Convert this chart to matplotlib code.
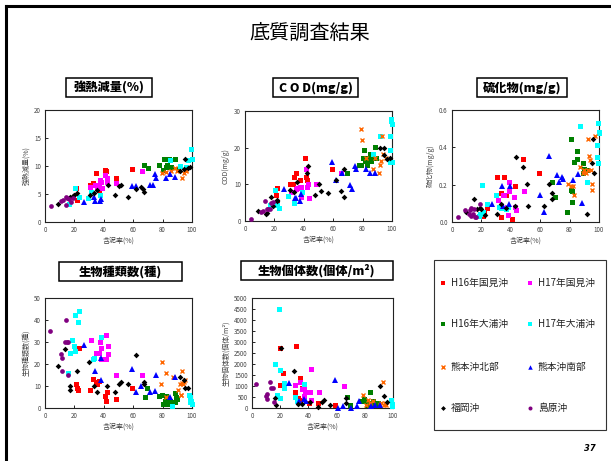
import matplotlib
matplotlib.use("Agg")
import matplotlib.pyplot as plt
from matplotlib.patches import Rectangle
from matplotlib.lines import Line2D

plt.rcParams['font.family'] = ['Noto Sans CJK JP', 'DejaVu Sans']

W, H = 611, 461

# ---------------- data (含泥率 %, value) ----------------
series_names = ["H16年国見沖", "H17年国見沖", "H16年大浦沖", "H17年大浦沖",
                "熊本沖北部", "熊本沖南部", "福岡沖", "島原沖"]

# Plot 1: 強熱減量(%)
IG = {
 "H16年国見沖": [(21,6.1),(21.5,3.9),(30.5,6.6),(32.8,6.9),(35,8.7),(35.7,6.3),(36.4,5.7),(40.7,9.3),(41.4,9.1),(48,7.8),(59.3,9.5)],
 "H17年国見沖": [(30.5,6.3),(34,6.6),(35.5,6.3),(37,6.6),(37.4,7.5),(38,7.1),(38.5,6.0),(41,8.4),(42,7.8),(42.5,7.2),(48.6,7.0),(66.3,9.1)],
 "H16年大浦沖": [(67.2,10.2),(69.9,9.6),(77.6,10.2),(81,11.2),(82.1,9.9),(83,10.2),(84.4,11.2),(86,9.9),(88.7,11.2),(80.3,9.3),(90.5,9.4)],
 "H17年大浦沖": [(16.5,3.3),(20.4,6.0),(23.3,4.5),(29.4,4.3),(31,5.4),(37.3,4.8),(84.8,11),(91.6,10),(97.3,11),(99.1,13.1),(100,11.2),(96,9.9)],
 "熊本沖北部": [(79.6,8.7),(82.6,9.0),(86,9.1),(88.2,9.6),(89.8,9.1),(93.4,7.8),(94.6,8.8),(95.7,9.1),(96.2,9.3)],
 "熊本沖南部": [(26.5,3.5),(33.3,4.5),(34,3.8),(37.3,3.7),(38,4.1),(59.5,6.4),(62,6.4),(71.3,6.6),(73.5,6.6),(75.1,8.5),(75.8,7.8),(82.6,7.9),(84.8,8.5),(88.2,8.1)],
 "福岡沖": [(9,3.2),(17,4.5),(18.8,4.6),(19.7,4.8),(22,5.1),(30.5,4.9),(33.5,5.1),(35.7,5.7),(43,6.6),(47.5,4.8),(50,6.4),(51.4,6.6),(56.8,4.4),(61.8,5.9),(65.6,6.3),(67,5.9),(67.4,5.4),(91.6,9.1),(95,11.2),(94.6,9.4),(97.3,9.6),(98.4,9.9)],
 "島原沖": [(4,2.8),(11,3.8),(12,4.0),(14,4.4),(14.5,3.1),(15,4.2),(16,4.1),(18,3.5),(19,4.3)],
}

# Plot 2: COD(mg/g)
COD = {
 "H16年国見沖": [(21,7.1),(21.5,8.9),(22,5.2),(30.5,10.1),(32.8,10.2),(33.5,12.1),(35,13.1),(37.3,11.2),(41,17.3),(41.2,12.1),(42.3,11.2),(48,10.2),(59.3,14.2)],
 "H17年国見沖": [(31,8.0),(34.6,8.6),(35.5,8.9),(37.3,9.2),(38,9.2),(38,6.6),(41.8,14.2),(42.5,9.3),(43.2,6.3),(43,10.2),(48.6,10),(65.6,13.1)],
 "H16年大浦沖": [(69.7,13.1),(77.6,15.2),(79.2,15.2),(81,19.3),(80.3,17.3),(81.9,16.3),(82.6,17.3),(83.3,15.2),(84.4,17.3),(85.3,18.2),(84.8,16.3),(86,16.3),(88.7,20.2),(87,17.3),(89.4,17.3)],
 "H17年大浦沖": [(17,4.4),(20.4,8.4),(21.5,4.4),(23.3,3.6),(29.4,6.9),(33.3,4.8),(38.5,7.9),(87,18.2),(92,23.1),(98.4,19.3),(98.9,23.1),(99.1,27.9),(99.5,27.3),(100,26.4),(98.9,16.1),(100,16.1)],
 "熊本沖北部": [(79.2,25.2),(79.9,22.2),(82.6,17.3),(87.1,14.1),(88.7,17.3),(91,13.1),(91.6,15.4),(92.3,16.4),(93.4,23.1),(93.9,18.2),(95.7,17.3)],
 "熊本沖南部": [(26.7,8.6),(34,6.2),(34.6,6.4),(37.3,5.4),(38,7.3),(59.5,16),(62.2,11.2),(65.8,13.1),(71.3,9.8),(73,8.6),(75,15),(75.8,14.1),(82.6,14.1),(85.3,13.1),(88.7,13.1)],
 "福岡沖": [(9,2.8),(14,1.9),(14.7,2.1),(17.4,6.6),(19.2,4.2),(21.5,5.4),(22,5.7),(30.5,8.4),(33.3,8),(35.7,10.5),(43,15),(42.3,13.2),(47.5,7.1),(50,10.1),(51.6,8.3),(56.8,7.5),(62.2,11.2),(65.6,8.2),(67.4,14.2),(67.6,6.6),(91.6,20),(94.6,20),(94.6,17.9),(96.8,17),(98.4,17.3)],
 "島原沖": [(3.8,0.6),(10.9,2.5),(12,2.7),(13.8,5.5),(14.7,3.2),(15.8,3.4),(17,3.2),(18,4.8),(18.8,5.1)],
}

# Plot 3: 硫化物(mg/g)
SUL = {
 "H16年国見沖": [(21.1,0.03),(21.6,0.054),(23.9,0.077),(30.9,0.242),(33.2,0.027),(33.6,0.156),(35.5,0.242),(36.6,0.143),(41.1,0.018),(42,0.134),(42.9,0.194),(48.4,0.335),(59.1,0.264)],
 "H17年国見沖": [(31.4,0.116),(34.8,0.143),(35.5,0.143),(37.5,0.081),(38.2,0.036),(38.6,0.215),(38.6,0.167),(42,0.134),(42.9,0.081),(43.2,0.063),(49.1,0.167)],
 "H16年大浦沖": [(67.7,0.215),(70,0.134),(78,0.054),(80.9,0.443),(80.9,0.174),(81.4,0.167),(81.8,0.108),(83.2,0.322),(84.8,0.382),(85.2,0.335),(88.9,0.314),(89.3,0.26),(90,0.283),(91.6,0.278)],
 "H17年大浦沖": [(18.4,0.03),(19.3,0.045),(20.5,0.197),(21.1,0.054),(24.1,0.099),(30.2,0.143),(32,0.081),(33.2,0.077),(36.6,0.072),(38.2,0.081),(87,0.514),(92,0.215),(98.4,0.412),(98.9,0.346),(99.1,0.314),(99.5,0.532),(99.8,0.484),(100,0.475)],
 "熊本沖北部": [(79.1,0.203),(80.9,0.192),(82.5,0.192),(83,0.143),(87,0.292),(88.9,0.264),(89.8,0.281),(90.9,0.26),(92.3,0.281),(92.7,0.443),(93.4,0.353),(93.9,0.332),(94.3,0.278),(95.2,0.203),(95.2,0.174),(97,0.461)],
 "熊本沖南部": [(27.5,0.095),(34.1,0.192),(34.8,0.084),(38.9,0.095),(39.3,0.192),(59.8,0.143),(62.5,0.054),(66.1,0.353),(71.1,0.254),(73,0.213),(75,0.242),(75.7,0.231),(82.5,0.224),(85.5,0.256),(88.4,0.102)],
 "福岡沖": [(9.3,0.054),(15,0.125),(17.3,0.072),(18.9,0.077),(19.5,0.068),(22.3,0.036),(30.9,0.045),(33.6,0.095),(36.6,0.077),(43.2,0.346),(42.7,0.084),(48,0.296),(50.7,0.203),(51.8,0.084),(62.5,0.084),(65.9,0.203),(67.7,0.156),(68.2,0.125),(91.6,0.045),(95,0.314),(95.7,0.443),(96.8,0.26)],
 "島原沖": [(4.1,0.027),(9.1,0.066),(11.4,0.041),(12,0.063),(12.7,0.077),(13.2,0.03),(14.3,0.041),(15.5,0.027),(16.6,0.027),(18.9,0.099),(14.8,0.072)],
}

# Plot 4: 生物種類数(種)
SPC = {
 "H16年国見沖": [(21,11.1),(21.5,8.9),(22.2,8.1),(23.1,27.4),(30.5,8.1),(32.8,13.3),(35,11.7),(35.5,10.8),(36.4,12.3),(40.7,5.3),(41.2,3.0),(42.5,7.2),(48.2,4.1),(59.3,9.0)],
 "H17年国見沖": [(31,30.9),(34.6,25.2),(35.5,25.2),(36.4,25.2),(37.3,30.1),(38,27.1),(38,22.3),(41.4,22.3),(41.8,33.1),(42.8,28.1),(43,24.4),(48.4,15.1),(66.1,15.1)],
 "H16年大浦沖": [(67.9,5),(69.7,9),(77.6,5.3),(79.9,6),(80.3,2),(81.4,3),(82.1,2),(83.3,3),(84.2,2),(84.8,3),(88.2,6.8),(88.7,2.7),(88.9,4.8),(89.8,4.1),(82.6,5.3)],
 "H17年大浦沖": [(15.8,16.1),(17,25.2),(18.1,30.9),(19.7,28.1),(20.4,42.2),(20.4,26.1),(22.2,39.2),(23.3,44.1),(32.4,22.1),(33.3,22.9),(37.8,32.4),(86.7,0.8),(98,5.7),(98.9,4.8),(98.4,2.6),(99.5,3),(100,2)],
 "熊本沖北部": [(79.6,21.1),(79.2,11),(82.6,16.1),(82.6,5),(87.1,13.9),(90.5,8),(91.6,11),(92.3,6),(92.8,6),(93.4,17),(93.9,11),(94.6,12),(95,12.8),(93.2,11.3)],
 "熊本沖南部": [(26.7,28.6),(34,16.9),(37.8,12.8),(38,22.9),(59.5,17.8),(61.8,7.1),(65.6,10.1),(71.3,7.1),(75.1,7.8),(75.8,14.8),(85.3,4.8),(88.2,13.9)],
 "福岡沖": [(9,19.1),(13.8,27),(17,10.1),(17,8),(22,16.9),(30.1,21.1),(33.5,10.1),(35.7,7.1),(42.5,10.1),(47.5,7.1),(50.5,11),(51.4,11.9),(56.8,11),(61.8,24.1),(67.2,11),(67.6,12.0),(91.6,13.9),(94.6,12.8),(95,9),(97.3,9)],
 "島原沖": [(3.4,35.1),(14,39.9),(10.9,24.4),(11.3,22.9),(11.8,16.9),(13.6,30.1),(14.7,30.1),(15.8,30.1),(15.8,15.1)],
}

# Plot 5: 生物個体数(個体/m2)
ABD = {
 "H16年国見沖": [(20.1,2740),(19.6,1050),(21.9,1580),(30.3,750),(31.4,2830),(32.6,450),(33.8,350),(34.3,1360),(35.5,900),(40.4,230),(46.8,230),(58.6,120)],
 "H17年国見沖": [(30.3,1050),(33.8,1160),(35.7,860),(36.9,560),(36.9,940),(37.8,720),(40.9,750),(42.1,1780),(42.1,380),(47.5,710),(65.2,1010)],
 "H16年大浦沖": [(67.4,480),(69.7,120),(77.5,330),(79.2,420),(80.4,300),(81.6,120),(82.3,230),(83.9,750),(84.6,150),(85.8,300),(87.5,120),(89.4,230)],
 "H17年大浦沖": [(16.1,1990),(17.7,600),(18.9,4520),(19.6,1730),(19.6,450),(22.5,930),(22.5,1130),(30.7,480),(31.9,300),(36.9,1080),(98.8,350),(99.3,180),(99.5,75)],
 "熊本沖北部": [(78.7,600),(81.1,150),(82.3,380),(83.5,230),(85.8,330),(90.5,150),(91.7,230),(92.9,1180),(93.4,150),(94.3,230),(95.3,150)],
 "熊本沖南部": [(26.2,1130),(33.3,300),(36.9,410),(38.1,300),(58.6,1280),(61,0),(64.5,75),(70.4,0),(74.5,75),(75.7,300),(84.6,75),(87.4,150),(91,120)],
 "福岡沖": [(16.5,450),(16.8,120),(20.8,2740),(29.6,1660),(32.6,180),(35.5,180),(41.4,270),(47,45),(49.4,270),(51.1,350),(55.1,120),(66.4,450),(66.4,230),(90.5,980),(93.6,530),(96,260)],
 "島原沖": [(3.1,1100),(10.2,560),(10.6,410),(10.9,630),(13,1160),(13.2,900),(14.9,930),(15.4,270)],
}

x_ticks = [0, 20, 40, 60, 80, 100]
x_label = "含泥率(%)"

# ---------------- styles ----------------
style = {
 "H16年国見沖": dict(marker='s', color='#FF0000', ms=3.6, mew=0),
 "H17年国見沖": dict(marker='s', color='#FF00FF', ms=3.6, mew=0),
 "H16年大浦沖": dict(marker='s', color='#008000', ms=3.6, mew=0),
 "H17年大浦沖": dict(marker='s', color='#00FFFF', ms=3.6, mew=0),
 "熊本沖北部": dict(marker='x', color='#FF6600', ms=3.3, mew=1.0),
 "熊本沖南部": dict(marker='^', color='#0000FF', ms=3.8, mew=0),
 "福岡沖": dict(marker='D', color='#000000', ms=2.9, mew=0),
 "島原沖": dict(marker='o', color='#800080', ms=3.4, mew=0),
}

fig = plt.figure(figsize=(W / 100, H / 100), dpi=100)


def px_axes(l, t, r, b):
    return fig.add_axes([l / W, 1 - b / H, (r - l) / W, (b - t) / H])


def title_box(l, t, r, b, text, size=8.8):
    fig.add_artist(Rectangle((l / W, 1 - b / H), (r - l) / W, (b - t) / H,
                             transform=fig.transFigure, fill=True, facecolor='white',
                             edgecolor='black', lw=1.1))
    fig.text((l + r) / 2 / W, 1 - (t + b) / 2 / H, text, ha='center', va='center',
             fontsize=size, fontweight='black')


panels = [
    (IG, (45, 110, 192, 222), (0, 20), [0, 5, 10, 15, 20], "強熱減量(%)", None),
    (COD, (245, 111, 392, 221), (0, 30), [0, 10, 20, 30], "COD(mg/g)", None),
    (SUL, (452, 110, 599, 222), (0, 0.6), [0.0, 0.2, 0.4, 0.6], "硫化物(mg/g)", "{:.1f}"),
    (SPC, (45, 298, 192, 408), (0, 50), [0, 10, 20, 30, 40, 50], "生物種類数(種)", None),
    (ABD, (252, 298, 393, 408), (0, 5000), list(range(0, 5001, 500)), "生物個体数(個体/m²)", None),
]

for data, (l, t, r, b), ylim, yt, ylab, fmt in panels:
    ax = px_axes(l, t, r, b)
    for name in series_names:
        pts = data[name]
        xs = [p[0] for p in pts]
        ys = [p[1] for p in pts]
        st = style[name]
        ax.plot(xs, ys, linestyle='none', marker=st['marker'], color=st['color'],
                markersize=st['ms'], markeredgewidth=st['mew'], markeredgecolor=st['color'],
                clip_on=False, zorder=3)
    ax.set_xlim(0, 100)
    ax.set_ylim(*ylim)
    ax.set_xticks(x_ticks)
    ax.set_yticks(yt)
    if fmt:
        ax.set_yticklabels([fmt.format(v) for v in yt])
    ax.tick_params(direction='in', length=2, width=0.6, labelsize=4.5,
                   labelcolor='#444444', pad=3)
    for sp in ax.spines.values():
        sp.set_linewidth(0.8)
        sp.set_color('#222222')
    ax.set_xlabel(x_label, fontsize=5, color='#444444', labelpad=2)
    ax.set_ylabel(ylab, fontsize=5, color='#444444', labelpad=3)

# panel titles
title_box(66, 78, 152, 97, "強熱減量(%)")
title_box(273, 78, 358, 97, "C O D(mg/g)")
title_box(477, 78, 567, 97, "硫化物(mg/g)")
title_box(59, 262, 182, 281, "生物種類数(種)")
title_box(241, 261, 393, 280, "生物個体数(個体/m²)")

# legend box
fig.add_artist(Rectangle((434 / W, 1 - 430 / H), (606 - 434) / W, (430 - 260) / H,
                         transform=fig.transFigure, fill=False, edgecolor='#333333', lw=0.8))
rows = [283, 324, 367, 408]
cols = [(443, 451), (530, 538)]
for i, name in enumerate(series_names):
    row = rows[i // 2]
    mx, tx = cols[i % 2]
    st = style[name]
    fig.add_artist(Line2D([mx / W], [1 - row / H], transform=fig.transFigure,
                          linestyle='none', marker=st['marker'], color=st['color'],
                          markersize=st['ms'] * 0.85, markeredgewidth=st['mew'],
                          markeredgecolor=st['color']))
    fig.text(tx / W, 1 - row / H, name, ha='left', va='center', fontsize=7, color='#222222')

# main title
fig.text(310 / W, 1 - 33 / H, "底質調査結果", ha='center', va='center', fontsize=14.5)

# page frame
fig.add_artist(Line2D([6 / W, 1.0], [1 - 6 / H, 1 - 6 / H], transform=fig.transFigure,
                      color='black', lw=2.2))
fig.add_artist(Line2D([6 / W, 6 / W], [1 - 6 / H, 0.0], transform=fig.transFigure,
                      color='black', lw=2.2))

# page number
fig.text(590 / W, 1 - 448 / H, "37", ha='center', va='center', fontsize=6,
         fontweight='bold', fontstyle='italic', family=['DejaVu Sans'])

fig.savefig("out.png", dpi=100, facecolor='white')
